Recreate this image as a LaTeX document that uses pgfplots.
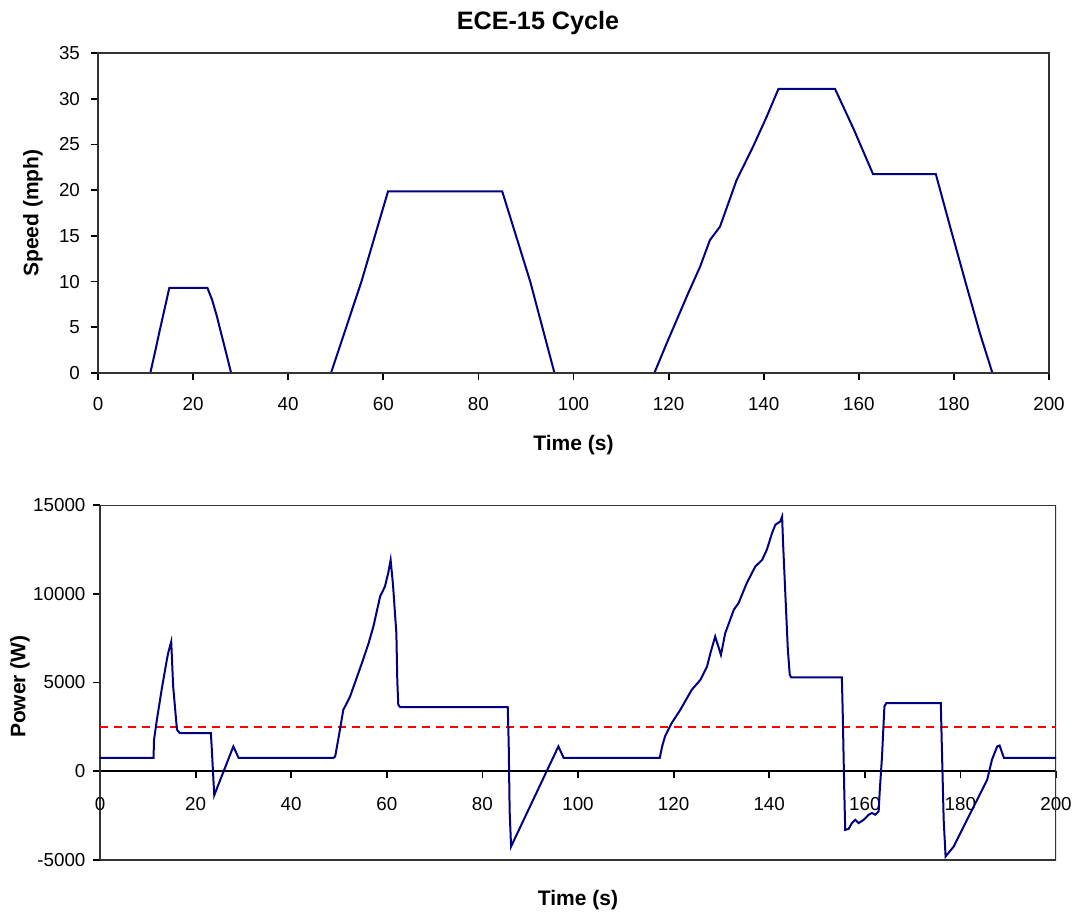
\documentclass[border=0pt]{standalone}
\usepackage{pgfplots}
\pgfplotsset{compat=1.18}
\usepackage{fontspec}
\setmainfont{Liberation Sans}
\definecolor{excelnavy}{RGB}{0,0,128}

\tikzset{boldlab/.style={font=\fontsize{10.5}{12}\selectfont\bfseries}}
\pgfplotsset{
  ece/.style={
    scale only axis,
    axis line style={black!80, line width=0.9pt},
    tick style={black, line width=0.9pt},
    major tick length=3.5pt,
    xmin=0, xmax=200, xtick={0,20,...,200},
    tick label style={font=\fontsize{9.4}{11}\selectfont},
    yticklabel style={xshift=-2pt},
    /pgf/number format/assume math mode=true,
    /pgf/number format/1000 sep={},
  },
}

\begin{document}
\begin{tikzpicture}
\useasboundingbox (0,0) rectangle (538.5pt,-456pt);

% speed trace
\begin{axis}[ece,
  at={(49pt,-26.5pt)}, anchor=north west,
  width=475.5pt, height=160pt,
  axis on top,
  tick align=outside,
  ymin=0, ymax=35, ytick={0,5,...,35},
  xtick pos=bottom, ytick pos=left,
  xticklabel style={yshift=-5pt},
  title={ECE-15 Cycle},
  title style={font=\fontsize{12.6}{14}\selectfont\bfseries,
    at={(axis description cs:0.4627,1.056)}, anchor=center},
  xlabel={Time (s)},
  xlabel style={boldlab, at={(axis description cs:0.5,-0.225)}, anchor=center},
  ylabel={Speed (mph)},
  ylabel style={boldlab, at={(axis description cs:-0.0684,0.5)}, anchor=center},
]
\addplot[excelnavy, line width=1pt] coordinates {
  (0,0) (11,0) (12,2.3) (13,4.7) (14,7.0) (15,9.32) (23,9.32)
  (24,8.0) (25,6.21) (26,4.14) (27,2.07) (28,0)
  (49,0) (55.4,10) (61,19.88) (85,19.88) (90.9,10) (96,0)
  (117,0) (119.6,3.25) (124.1,8.7) (126.6,11.6) (128.7,14.55) (130.8,16.0)
  (134.3,21.1) (137.8,24.8) (140.6,28.0) (143.1,31.07) (155,31.07)
  (158.9,26.7) (163,21.75) (176.2,21.75) (179.2,16.0) (182.7,9.45)
  (185.5,4.3) (188.1,0) (200,0)
};
\end{axis}

% power trace
\begin{axis}[ece,
  at={(50pt,-252.5pt)}, anchor=north west,
  width=478pt, height=177.5pt,
  ymin=-5000, ymax=15000, ytick={-5000,0,...,15000},
  scaled y ticks=false,
  axis x line=middle, axis y line=left,
  tick align=center,
  x tick style={yshift=-1.75pt},
  y tick style={xshift=-1.75pt},
  xticklabel style={yshift=-8pt},
  x axis line style={-, black, line width=0.8pt},
  y axis line style={-},
  hide obscured x ticks=false,
  xlabel={Time (s)},
  xlabel style={boldlab, at={(axis description cs:0.5,-0.1127)}, anchor=center},
  ylabel={Power (W)},
  ylabel style={boldlab, at={(axis description cs:-0.0837,0.4887)}, anchor=center, rotate=0},
]
\draw[black!80, line width=0.9pt] (rel axis cs:0,0) rectangle (rel axis cs:1,1);
\addplot[red, dashed, line width=1pt, dash pattern=on 4pt off 3pt] coordinates {
  (0,2500) (200,2500)
};
\addplot[excelnavy, line width=1pt] coordinates {
  (0,750) (11.2,750) (11.3,1775) (11.9,2900) (12.9,4600) (14.0,6300)
  (14.3,6700) (14.9,7300) (15.3,4800) (16.1,2340) (16.7,2150) (23.2,2150)
  (23.4,1200) (23.9,-1350) (27.9,1400) (29.0,750)
  (48.8,750) (49.2,830) (50.2,2340) (50.9,3460) (52.3,4200) (54.8,6100)
  (56.2,7220) (57.2,8160) (58.6,9850) (59.6,10400) (60.3,11170) (60.8,11900)
  (61.3,10500) (62.0,7780) (62.2,5060) (62.4,3750) (62.8,3615) (85.3,3615)
  (85.5,1590) (85.7,-2260) (86.0,-4240) (95.9,1400) (97.0,750)
  (117.1,750) (117.6,1400) (118.2,1960) (119.6,2715) (121.4,3460)
  (123.8,4590) (125.6,5150) (127.0,5900) (127.7,6660) (128.7,7590)
  (129.9,6560) (130.8,7780) (132.6,9100) (133.6,9480) (135.3,10600)
  (137.1,11540) (138.5,11900) (139.5,12480) (140.6,13420) (141.3,13890)
  (142.3,14070) (142.7,14350) (142.9,12860) (143.4,9850) (143.9,6850)
  (144.3,5440) (144.6,5290) (155.2,5290)
  (155.4,3090) (155.7,-1040) (155.9,-3300) (156.6,-3250) (157.3,-2920)
  (158.0,-2730) (158.7,-2920) (159.8,-2730) (160.8,-2450) (161.5,-2350)
  (162.2,-2450) (162.9,-2260) (163.1,-1230) (163.6,830) (164.1,3650)
  (164.5,3840) (175.9,3840) (176.1,1590) (176.5,-2730) (176.9,-4800)
  (178.6,-4240) (180.7,-3110) (182.8,-1980) (185.6,-480) (186.6,650)
  (187.7,1400) (188.2,1450) (189.1,750) (200,750)
};
\end{axis}
\end{tikzpicture}
\end{document}
